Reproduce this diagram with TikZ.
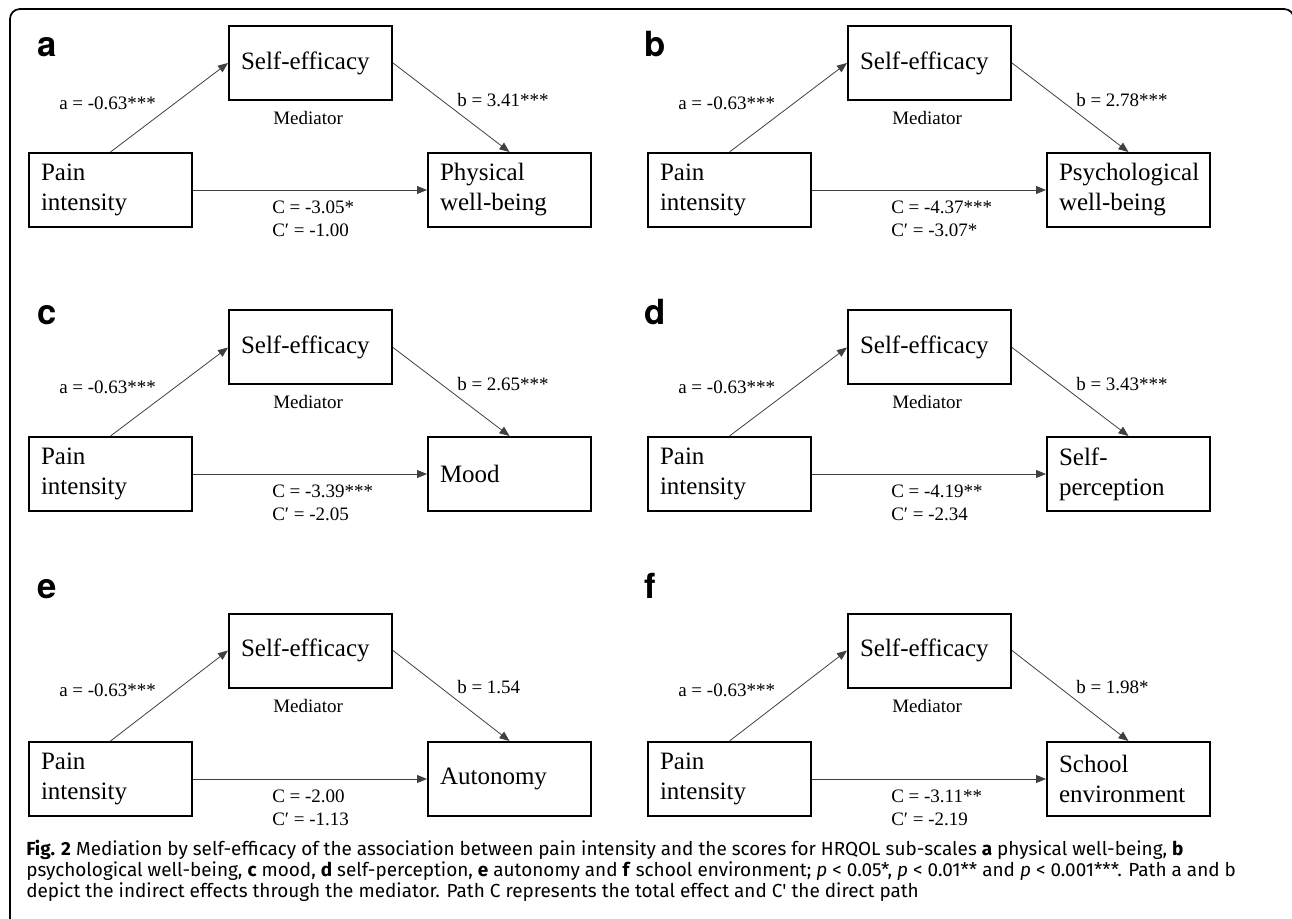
\documentclass[tikz,border=0pt]{standalone}
\usepackage{fontspec}
\setmainfont{Liberation Serif}
\newfontfamily\capfont{Fira Sans}
\newfontfamily\letfont{TeX Gyre Heros}
\usetikzlibrary{arrows.meta}
\tikzset{
 mbox/.style={draw, line width=1.5pt, rectangle, minimum height=55.5pt, text width=104.25pt, inner xsep=9pt, inner ysep=0pt, align=left, font=\fontsize{18.75}{22.5}\selectfont},
 elab/.style={font=\fontsize{14.25}{17}\selectfont, inner sep=0pt},
 marr/.style={draw=black!75, line width=0.6pt, -{Triangle[length=7.5pt,width=6pt]}},
 pletter/.style={font=\letfont\bfseries\fontsize{26}{30}\selectfont, inner sep=0pt, anchor=base west},
 captext/.style={font=\capfont\fontsize{14.2}{16}\selectfont, inner sep=0pt, anchor=base west},
}
\newcommand\medpanel[8]{%
 \begin{scope}[shift={(#2,0)}]
  \node[mbox] (#1se) at (310.5,#3) {Self-efficacy};
  \node[mbox] (#1pi) at (110.5,#4) {Pain\\intensity};
  \node[mbox] (#1out) at (509.5,#4) {#5};
  \draw[marr] (#1pi.north) -- (#1se.west);
  \draw[marr] (#1se.east) -- (#1out.north);
  \draw[marr] (#1pi.east) -- (#1out.west);
  \node[elab, anchor=west] (#1al) at (59,{#3+40}) {a = -0.63***};
  \node[elab, anchor=west] (#1bl) at (457,{#3+37}) {#6};
  \node[elab, anchor=west] (#1med) at (273,{#3+55}) {Mediator};
  \node[elab, anchor=west] (#1cl) at (272,{#4+17}) {#7};
  \node[elab, anchor=west] (#1cpl) at (272,{#4+40}) {#8};
 \end{scope}}
\begin{document}
\begin{tikzpicture}[x=0.75pt,y=-0.75pt]
\useasboundingbox (0,0) rectangle (1292,919);
\draw[line width=1.3pt, rounded corners=7.5pt] (10,930) -- (10,9) -- (1294,9) -- (1294,930);
\medpanel{a}{0}{63}{190}{Physical\\well-being}{b = 3.41***}{C = -3.05*}{C′ = -1.00}
\medpanel{b}{619}{63}{190}{Psychological\\well-being}{b = 2.78***}{C = -4.37***}{C′ = -3.07*}
\medpanel{c}{0}{347.5}{474}{Mood}{b = 2.65***}{C = -3.39***}{C′ = -2.05}
\medpanel{d}{619}{347.5}{474}{Self-\\perception}{b = 3.43***}{C = -4.19**}{C′ = -2.34}
\medpanel{e}{0}{650.5}{779}{Autonomy}{b = 1.54}{C = -2.00}{C′ = -1.13}
\medpanel{f}{619}{650.5}{779}{School\\environment}{b = 1.98*}{C = -3.11**}{C′ = -2.19}
\node[pletter] (la) at (37,57) {a};
\node[pletter] (lb) at (644,57) {b};
\node[pletter] (lc) at (37,325) {c};
\node[pletter] (ld) at (644,325) {d};
\node[pletter] (le) at (37,598) {e};
\node[pletter] (lf) at (644,598) {f};
\node[captext] (cap1) at (26,855) {\textbf{Fig. 2} Mediation by self-efficacy of the association between pain intensity and the scores for HRQOL sub-scales \textbf{a} physical well-being, \textbf{b}};
\node[captext] (cap2) at (26,876) {psychological well-being, \textbf{c} mood, \textbf{d} self-perception, \textbf{e} autonomy and \textbf{f} school environment; \textit{p} < 0.05*, \textit{p} < 0.01** and \textit{p} < 0.001***. Path a and b};
\node[captext] (cap3) at (26,897) {depict the indirect effects through the mediator. Path C represents the total effect and C' the direct path};
\end{tikzpicture}
\end{document}
